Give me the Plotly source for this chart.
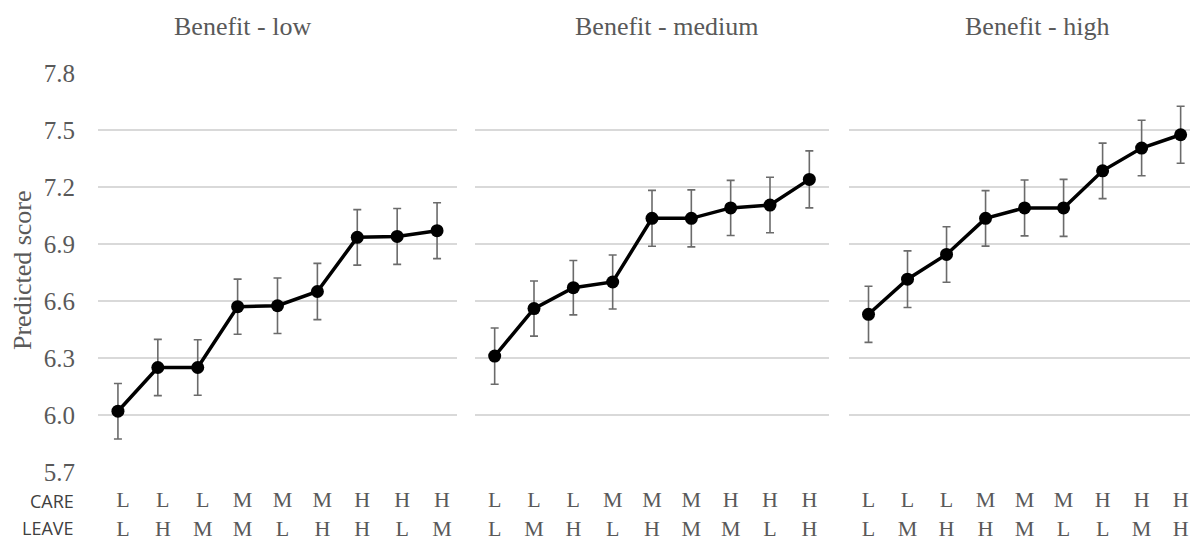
import plotly.graph_objects as go

panel_titles = ["Benefit - low", "Benefit - medium", "Benefit - high"]
care_labels = [
    ["L", "L", "L", "M", "M", "M", "H", "H", "H"],
    ["L", "L", "L", "M", "M", "M", "H", "H", "H"],
    ["L", "L", "L", "M", "M", "M", "H", "H", "H"],
]
leave_labels = [
    ["L", "H", "M", "M", "L", "H", "H", "L", "M"],
    ["L", "M", "H", "L", "H", "M", "M", "L", "H"],
    ["L", "M", "H", "H", "M", "L", "L", "M", "H"],
]
scores_low = [6.02, 6.25, 6.25, 6.57, 6.575, 6.65, 6.935, 6.94, 6.97]
scores_medium = [6.31, 6.56, 6.67, 6.70, 7.035, 7.035, 7.09, 7.105, 7.24]
scores_high = [6.53, 6.715, 6.845, 7.035, 7.09, 7.09, 7.285, 7.405, 7.475]
err_low = [0.146, 0.148, 0.146, 0.145, 0.146, 0.148, 0.146, 0.147, 0.147]
err_medium = [0.148, 0.145, 0.143, 0.142, 0.147, 0.15, 0.145, 0.146, 0.15]
err_high = [0.148, 0.149, 0.146, 0.146, 0.147, 0.15, 0.146, 0.146, 0.15]
y_ticks = [5.7, 6.0, 6.3, 6.6, 6.9, 7.2, 7.5, 7.8]

scores = [scores_low, scores_medium, scores_high]
errs = [err_low, err_medium, err_high]

W, H = 1190, 540
domains = [(98, 457), (475, 829), (849, 1190)]
xranges = [[-0.5, 8.5], [-0.5, 8.5], [-0.5, 8.24]]
label_shift = [5, 0, 0]
title_x = [242, 666, 1037]
pad = 1 / 190  # one pixel of headroom so edge gridlines are drawn

serif = "Liberation Serif, Times New Roman, serif"
gray = "#595959"

fig = go.Figure()
for i in range(3):
    xa = "x" if i == 0 else f"x{i+1}"
    ya = "y" if i == 0 else f"y{i+1}"
    cats = list(range(len(scores[i])))
    fig.add_trace(go.Scatter(
        x=cats, y=scores[i], xaxis=xa, yaxis=ya, mode="lines+markers",
        line=dict(color="black", width=3.5),
        marker=dict(color="black", size=13),
        error_y=dict(type="data", array=errs[i], color="#6b6b6b", thickness=1.6, width=4),
        showlegend=False, hoverinfo="skip", cliponaxis=False,
    ))
    ticktext = [f"{c}<br>{l}" for c, l in zip(care_labels[i], leave_labels[i])]
    xkey = "xaxis" if i == 0 else f"xaxis{i+1}"
    ykey = "yaxis" if i == 0 else f"yaxis{i+1}"
    fig.layout[xkey] = dict(
        domain=[domains[i][0] / W, domains[i][1] / W], range=xranges[i],
        tickmode="array", tickvals=cats, ticktext=ticktext,
        showgrid=False, zeroline=False, showline=False, ticks="",
        tickfont=dict(family=serif, size=22, color=gray),
        ticklabelstandoff=11, ticklabelshift=label_shift[i],
        anchor=ya, fixedrange=True,
    )
    fig.layout[ykey] = dict(
        domain=[0, 1], range=[y_ticks[0] - pad, y_ticks[-1] + pad],
        tickmode="array", tickvals=y_ticks,
        ticktext=[f"{v:.1f}" for v in y_ticks],
        showticklabels=(i == 0),
        showgrid=True, gridcolor="#d9d9d9", gridwidth=1.5,
        zeroline=False, showline=False, ticks="",
        tickfont=dict(family=serif, size=25, color=gray),
        ticklabelstandoff=22, anchor=xa, fixedrange=True,
    )

plot_h = 540 - 72 - 67
def py(ypix):
    return (540 - 67 - ypix) / plot_h

for i in range(3):
    fig.add_annotation(
        text=panel_titles[i], xref="paper", yref="paper",
        x=title_x[i] / W, y=py(26), xanchor="center", yanchor="middle",
        showarrow=False, font=dict(family=serif, size=26, color=gray),
    )

fig.add_annotation(
    text="Predicted score", xref="paper", yref="paper",
    x=22 / W, y=py(270), textangle=-90, xanchor="center", yanchor="middle",
    showarrow=False, font=dict(family=serif, size=26, color=gray),
)
for txt, yy in [("CARE", 501), ("LEAVE", 528)]:
    fig.add_annotation(
        text=txt, xref="paper", yref="paper", x=76 / W, y=py(yy),
        xanchor="right", yanchor="middle", showarrow=False,
        font=dict(family="Open Sans, sans-serif", size=18, color="#404040"),
    )

fig.update_layout(
    width=W, height=H, margin=dict(l=0, r=0, t=72, b=67, pad=0, autoexpand=False),
    paper_bgcolor="white", plot_bgcolor="white",
)
fig.write_html("out.html", config={"displayModeBar": False},
               post_script="document.body.style.margin='0';")
